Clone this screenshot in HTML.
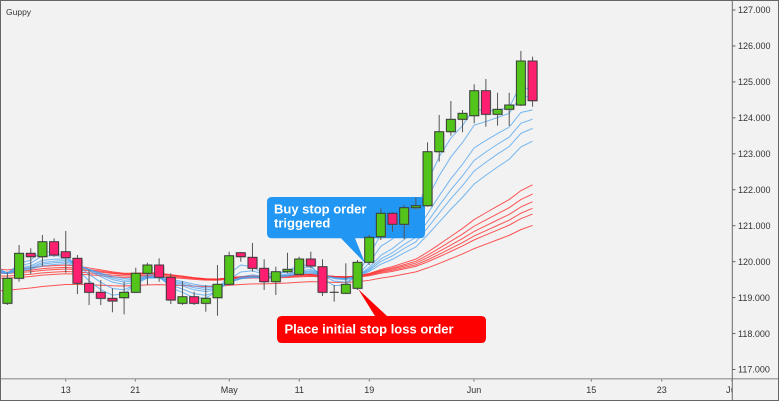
<!DOCTYPE html>
<html>
<head>
<meta charset="utf-8">
<style>
  html,body{margin:0;padding:0;background:#f2f2f2;}
  svg{display:block;}
  text{font-family:"Liberation Sans",Arial,sans-serif;}
</style>
</head>
<body>
<svg id="chart" width="779" height="401" viewBox="0 0 779 401" xmlns="http://www.w3.org/2000/svg">
  <rect x="0" y="0" width="779" height="401" fill="#f2f2f2"/>
  <defs>
    <clipPath id="plotclip"><rect x="0" y="0" width="732" height="378"/></clipPath>
    <clipPath id="timeclip"><rect x="0" y="379" width="731.5" height="22"/></clipPath>
  </defs>
  <text x="6" y="15" font-size="8.5" fill="#333">Guppy</text>
  <g id="lines" clip-path="url(#plotclip)"></g>
  <g id="callouts">
    <path d="M272,197 H420 Q425,197 425,202 V233.3 Q425,238.3 420,238.3 H355 L365,263 L341,238.3 H272 Q267,238.3 267,233.3 V202 Q267,197 272,197 Z" fill="#2196f3"/>
    <text x="274" y="213.3" font-size="13" font-weight="bold" fill="#ffffff">Buy stop order</text>
    <text x="274" y="227.3" font-size="13" font-weight="bold" fill="#ffffff">triggered</text>
    <path d="M282,316 H375 L358.3,289.3 L387,316 H481 Q486,316 486,321 V338 Q486,343 481,343 H282 Q277,343 277,338 V321 Q277,316 282,316 Z" fill="#fe0000"/>
    <text x="284.5" y="333.5" font-size="13" font-weight="bold" fill="#ffffff">Place initial stop loss order</text>
  </g>
  <g id="candles"></g>
  <!-- axes -->
  <line x1="0" y1="378.7" x2="779" y2="378.7" stroke="#a8a8a8" stroke-width="1.5"/>
  <line x1="732.3" y1="0" x2="732.3" y2="401" stroke="#6a6a6a" stroke-width="1"/>
  <g id="yaxis" font-size="9" fill="#333"></g>
  <g id="xaxis" font-size="9" fill="#333" clip-path="url(#timeclip)"></g>
  <rect x="0.5" y="0.5" width="778" height="400" fill="none" stroke="#666" stroke-width="1"/>
</svg>
<script>
(function(){
  var NS="http://www.w3.org/2000/svg";
  function el(tag,attrs,parent,txt){var e=document.createElementNS(NS,tag);for(var k in attrs)e.setAttribute(k,attrs[k]);if(txt!==undefined)e.textContent=txt;parent.appendChild(e);return e;}
  // candles: [open, high, low, close] in pixel y
  var D=[
  [303.3,272.7,305,278.3],[278.3,245,281.7,253.3],[253.3,248.3,274,256.7],[256.7,235,266,241.7],
  [241.7,238.3,256.7,255],[251.7,231,272.7,257.7],[258.3,255,294,283.3],[283.3,270,305,292.3],
  [292.3,280,305,298.3],[298.3,288.3,312.3,301],[297.7,281.7,314.3,292.3],[292.3,267.7,293,273.3],
  [273.3,262.7,285,265],[265,258.3,281.7,277.3],[277.3,273.3,304,300],[303.3,281,305,296.7],
  [296.7,291.7,305,303.3],[303.3,285,311.7,298.3],[297.7,265,315.7,284.3],[284.3,251.7,285,255.7],
  [252.7,252,261.7,256.7],[257.3,243,271.7,268.3],[268.3,259.3,290,281.7],[281.7,266.7,295,271.7],
  [271.7,252.7,273.3,269.3],[274.3,256.7,275,259],[259,251.7,268.3,266],[266.7,259.3,296,292.3],
  [292.3,285,301.7,292.3],[293.3,263.3,294,284.3],[288.3,260,290,262.3],[262.3,235,265,237.3],
  [236.7,208.3,240,213.3],[213.3,212.3,231.7,224.3],[224.3,205,239,207.7],[207.7,197.7,209.3,205.7],
  [205.7,142.3,206.7,151.7],[151.7,115,161.7,131.7],[131.7,101,135.7,119.3],[119.3,110,132.3,113.3],
  [115.7,84.3,123.3,90.7],[90.7,79,126.7,114.3],[114.3,92.7,125.7,109.3],[109.3,92.7,126,105],
  [105,51,106,61],[61,56.7,106.7,100.7]
  ];
  function X(i){return 7.4+i*11.67;}
  // EMA lines
  var lines=document.getElementById("lines");
  function ema(p,seed){
    var a=2/(p+1),e=seed,pts=["0,"+seed.toFixed(2)];
    for(var i=0;i<D.length;i++){e=e+a*(D[i][3]-e);pts.push(X(i).toFixed(2)+","+e.toFixed(2));}
    return pts.join(" ");
  }
  var reds=[[30,269.3],[35,271.7],[40,273.3],[45,276],[50,278.3],[60,290.7]];
  reds.forEach(function(r){el("polyline",{points:ema(r[0],r[1]),fill:"none",stroke:"#ff2a2a","stroke-width":"1","stroke-opacity":"0.8"},lines);});
  var blues=[[3,269],[5,270],[8,271],[10,272],[12,272.5],[15,273]];
  blues.forEach(function(b){el("polyline",{points:ema(b[0],b[1]),fill:"none",stroke:"#4aa2f0","stroke-width":"1","stroke-opacity":"0.75"},lines);});
  // candles
  var cg=document.getElementById("candles");
  for(var i=0;i<D.length;i++){
    var o=D[i][0],h=D[i][1],l=D[i][2],c=D[i][3],x=X(i);
    el("line",{x1:x,y1:h,x2:x,y2:l,stroke:"#555","stroke-width":"1"},cg);
    if(Math.abs(o-c)<0.5){
      el("line",{x1:x-4.5,y1:c,x2:x+4.5,y2:c,stroke:"#444","stroke-width":"1.2"},cg);
      continue;
    }
    var top=Math.min(o,c),bot=Math.max(o,c);
    var up=c<o;
    el("rect",{x:x-4.5+1,y:top+1,width:9,height:Math.max(bot-top,1.5),fill:"#999","fill-opacity":"0.45"},cg);
    el("rect",{x:x-4.5,y:top,width:9,height:Math.max(bot-top,1.5),fill:up?"#52c41a":"#ff1f70",stroke:"#3a3a3a","stroke-width":"1"},cg);
  }
  // y axis
  var ya=document.getElementById("yaxis");
  for(var k=0;k<=10;k++){
    var v=127-k,y=10+k*35.95;
    el("line",{x1:732.3,y1:y,x2:735.5,y2:y,stroke:"#666","stroke-width":"1"},ya);
    el("text",{x:738,y:y+3.2},ya,v.toFixed(3));
  }
  // x axis
  var xa=document.getElementById("xaxis");
  var ticks=[[65.7,"13"],[135.3,"21"],[229.3,"May"],[299.3,"11"],[369.3,"19"],[474,"Jun"],[591.3,"15"],[661.7,"23"],[731.7,"Jul"]];
  ticks.forEach(function(t){
    el("line",{x1:t[0],y1:379.5,x2:t[0],y2:381.5,stroke:"#777","stroke-width":"1"},xa);
    el("text",{x:t[0],y:393,"text-anchor":"middle"},xa,t[1]);
  });
})();
</script>
</body>
</html>
